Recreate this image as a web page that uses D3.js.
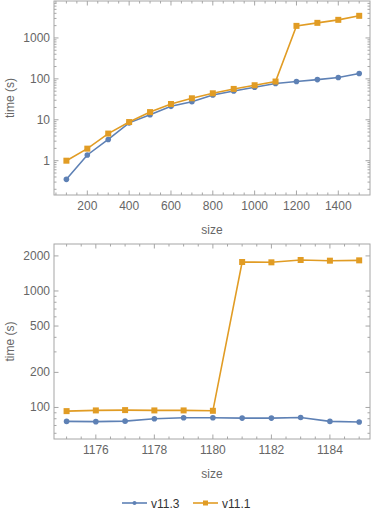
<!DOCTYPE html>
<html><head><meta charset="utf-8">
<script src="https://cdn.jsdelivr.net/npm/d3@7"></script>
<style>
body{margin:0;background:#fff;}
svg{display:block;font-family:"Liberation Sans",Arial,sans-serif;}
</style></head>
<body><svg id="c" width="374" height="517"></svg>
<script>
// ---- data ----
const sizesTop = [100,200,300,400,500,600,700,800,900,1000,1100,1200,1300,1400,1500];
const v113Top = [0.35,1.38,3.3,8.4,13.3,21.3,27.7,40.4,50.7,62.4,76.8,86,96,108,135];
const v111Top = [1.0,1.97,4.6,8.8,15.4,24.3,33.5,44.4,56.8,69.9,86,1973,2340,2770,3475];
const sizesBot = [1175,1176,1177,1178,1179,1180,1181,1182,1183,1184,1185];
const v113Bot = [75.9,75.5,76.3,80,81.5,81.5,81,81,82,75.9,74.9];
const v111Bot = [93,94.3,94.9,94.3,94.3,93.6,1773,1762,1845,1820,1832];
const xTicksTop = [200,400,600,800,1000,1200,1400];
const yTicksTop = [1,10,100,1000];
const xTicksBot = [1176,1178,1180,1182,1184];
const yTicksBot = [100,200,500,1000,2000];
const seriesNames = ["v11.3","v11.1"];
const colors = ["#5E81B5","#E19C24"];

const svg = d3.select("#c");
const frameCol = "#a6a6a6", labCol = "#666";

function panel(o){
  const g = svg.append("g");
  const fl=54, fr=370, ft=o.top, fb=o.bottom;
  const x = d3.scaleLinear().domain(o.xdom).range([fl,fr]);
  const y = d3.scaleLog().domain(o.ydom).range([fb,ft]);
  // frame
  g.append("rect").attr("x",fl).attr("y",ft).attr("width",fr-fl).attr("height",fb-ft)
    .attr("fill","none").attr("stroke",frameCol).attr("stroke-width",1);
  // x ticks
  const xmin = d3.range(o.xminor[0], o.xminor[1]+1e-9, o.xminor[2]);
  xmin.forEach(v=>{
    const px=x(v); if(px<fl+1||px>fr-1) return;
    const maj = o.xticks.some(t=>Math.abs(t-v)<1e-6);
    const L = maj?4.5:2.5;
    g.append("line").attr("x1",px).attr("x2",px).attr("y1",fb).attr("y2",fb-L).attr("stroke",frameCol);
    g.append("line").attr("x1",px).attr("x2",px).attr("y1",ft).attr("y2",ft+L).attr("stroke",frameCol);
  });
  o.xticks.forEach(v=>{
    g.append("text").attr("x",x(v)).attr("y",fb+15).attr("text-anchor","middle")
      .attr("font-size",12).attr("fill",labCol).text(v);
  });
  // y ticks
  o.yminor.forEach(v=>{
    const py=y(v); if(py<ft+1||py>fb-1) return;
    const maj = o.yticks.includes(v);
    const L = maj?4.5:2.5;
    g.append("line").attr("x1",fl).attr("x2",fl+L).attr("y1",py).attr("y2",py).attr("stroke",frameCol);
    g.append("line").attr("x1",fr).attr("x2",fr-L).attr("y1",py).attr("y2",py).attr("stroke",frameCol);
  });
  o.yticks.forEach(v=>{
    g.append("text").attr("x",fl-4).attr("y",y(v)+4).attr("text-anchor","end")
      .attr("font-size",12).attr("fill",labCol).text(v);
  });
  // axis labels
  g.append("text").attr("transform",`translate(14,${(ft+fb)/2}) rotate(-90)`)
    .attr("text-anchor","middle").attr("font-size",12).attr("fill",labCol).text("time (s)");
  g.append("text").attr("x",(fl+fr)/2).attr("y",fb+39).attr("text-anchor","middle")
    .attr("font-size",12).attr("fill",labCol).text("size");
  // series
  const line = d3.line().x(d=>x(d[0])).y(d=>y(d[1]));
  o.series.forEach((s,i)=>{
    const pts = o.xs.map((xv,j)=>[xv,s[j]]);
    g.append("path").attr("d",line(pts)).attr("fill","none").attr("stroke",colors[i]).attr("stroke-width",1.6);
    if(i===0){
      g.selectAll(null).data(pts).enter().append("circle").attr("cx",d=>x(d[0])).attr("cy",d=>y(d[1]))
        .attr("r",2.8).attr("fill",colors[i]);
    } else {
      g.selectAll(null).data(pts).enter().append("rect").attr("x",d=>x(d[0])-3).attr("y",d=>y(d[1])-3)
        .attr("width",6).attr("height",6).attr("fill",colors[i]);
    }
  });
}

function logMinors(lo,hi){
  const r=[];
  for(let e=lo;e<=hi;e++) for(let m=1;m<10;m++) r.push(m*Math.pow(10,e));
  return r;
}

panel({top:1,bottom:195,xdom:[40.7,1551.6],ydom:[0.145,8000],
  xticks:xTicksTop,xminor:[50,1550,50],yticks:yTicksTop,yminor:logMinors(-1,3),
  xs:sizesTop,series:[v113Top,v111Top]});
panel({top:244,bottom:439,xdom:[1174.57,1185.37],ydom:[53.6,2531],
  xticks:xTicksBot,xminor:[1174.5,1185.5,0.5],yticks:yTicksBot,yminor:logMinors(1,3).map(v=>Math.round(v)),
  xs:sizesBot,series:[v113Bot,v111Bot]});

// legend
const lg = svg.append("g");
const legendX=[122,193];
seriesNames.forEach((n,i)=>{
  const x0=legendX[i], yL=503;
  lg.append("line").attr("x1",x0).attr("x2",x0+25).attr("y1",yL).attr("y2",yL)
    .attr("stroke",colors[i]).attr("stroke-width",1.6);
  if(i===0) lg.append("circle").attr("cx",x0+12.5).attr("cy",yL).attr("r",2).attr("fill",colors[i]);
  else lg.append("rect").attr("x",x0+12.5-2.5).attr("y",yL-2.5).attr("width",5).attr("height",5).attr("fill",colors[i]);
  lg.append("text").attr("x",x0+29).attr("y",yL+4.5).attr("font-size",12).attr("fill","#333").text(n);
});
</script></body></html>
